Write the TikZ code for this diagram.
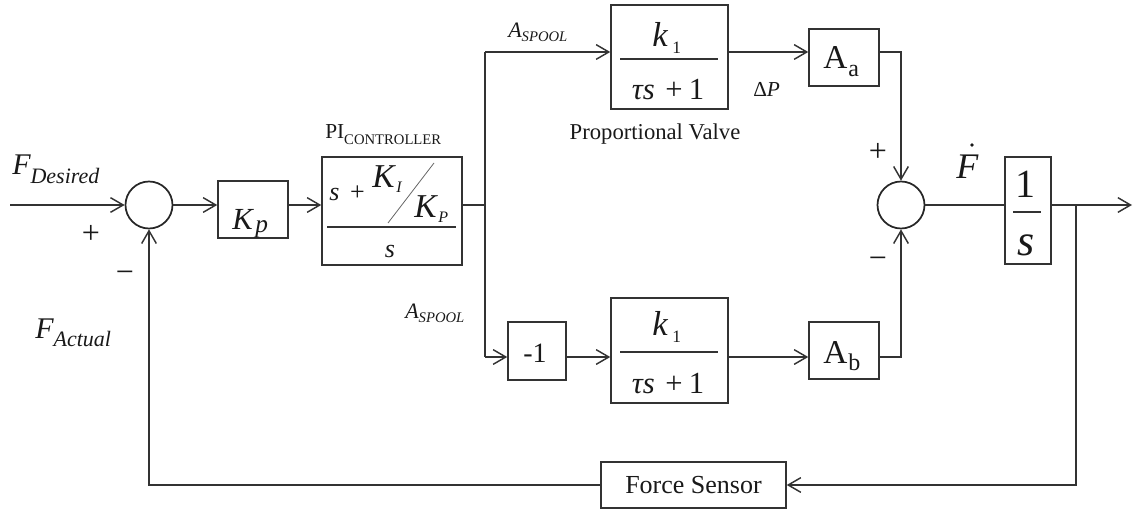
\documentclass[tikz,border=0pt]{standalone}
\usepackage{fontspec}
\setmainfont{Liberation Serif}
\usetikzlibrary{arrows.meta}
\newcommand\fsz[1]{\fontsize{#1}{#1}\selectfont}
\begin{document}
\begin{tikzpicture}[x=0.75pt,y=-0.75pt,
  ln/.style={draw=black!80,line width=1.1pt},
  arr/.style={ln,-{Straight Barb[length=9.5pt,width=11pt]}},
  blk/.style={draw=black!80,line width=1.1pt,inner sep=0pt},
  sumc/.style={circle,draw=black!85,line width=1.3pt,minimum size=35.25pt,inner sep=0pt},
  lbl/.style={inner sep=0pt,text=black!90},
  bar/.style={draw=black!80,line width=1.1pt}]
\useasboundingbox (0,0) rectangle (1133,510);

% summing junctions
\node[sumc] (s1) at (149,205) {};
\node[sumc] (s2) at (901,205) {};

% blocks
\node[blk,minimum width=52.5pt,minimum height=42.75pt] (kp) at (253,209.5) {};
\node[blk,minimum width=105pt,minimum height=81pt] (pi) at (392,211) {};
\node[blk,minimum width=87.75pt,minimum height=78pt] (v1) at (669.5,57) {};
\node[blk,minimum width=87.75pt,minimum height=78.75pt] (v2) at (669.5,350.5) {};
\node[blk,minimum width=43.5pt,minimum height=43.5pt] (neg) at (537,351) {};
\node[blk,minimum width=52.5pt,minimum height=42.75pt] (aa) at (844,57.5) {};
\node[blk,minimum width=52.5pt,minimum height=42.75pt] (ab) at (844,350.5) {};
\node[blk,minimum width=34.5pt,minimum height=80.25pt] (os) at (1028,210.5) {};
\node[blk,minimum width=138.75pt,minimum height=34.5pt] (fs) at (693.5,485) {};

% block contents
\node[lbl,anchor=base west] (kpK) at (232,229) {\fsz{23}\itshape K};
\node[lbl,anchor=base west] (kpp) at (255,233) {\fsz{19}\itshape p};

\node[lbl,anchor=base west] (pis) at (329,200) {\fsz{19.5}\itshape s};
\node[lbl,anchor=base] (pipl) at (357.5,200) {\fsz{19.5}+};
\node[lbl,anchor=base west] (piK1) at (372,187) {\fsz{25}\itshape K};
\node[lbl,anchor=base west] (piI) at (396,193) {\fsz{12}\itshape I};
\node[lbl,anchor=base west] (piK2) at (414,217) {\fsz{25}\itshape K};
\node[lbl,anchor=base west] (piP) at (438,223) {\fsz{12}\itshape P};
\draw[draw=black!60,line width=0.6pt] (388,223) -- (434,163);
\draw[bar] (327,227) -- (456,227);
\node[lbl,anchor=base] (pis2) at (390,257) {\fsz{19.5}\itshape s};

\node[lbl,anchor=base west] (v1k) at (652,47) {\fsz{26}\itshape k};
\node[lbl,anchor=base west] (v1i) at (672,54) {\fsz{13}1};
\draw[bar] (620,59) -- (718,59);
\node[lbl,anchor=base] (v1d) at (668,100) {\fsz{23}{\itshape τs}\hspace{0.35em}+\hspace{0.2em}1};

\node[lbl,anchor=base west] (v2k) at (652,335) {\fsz{26}\itshape k};
\node[lbl,anchor=base west] (v2i) at (672,342) {\fsz{13}1};
\draw[bar] (620,352) -- (718,352);
\node[lbl,anchor=base] (v2d) at (668,393) {\fsz{23}{\itshape τs}\hspace{0.35em}+\hspace{0.2em}1};

\node[lbl,anchor=base] (negt) at (535,362) {\fsz{21}-1};

\node[lbl,anchor=base west] (aaA) at (823,69) {\fsz{25}A};
\node[lbl,anchor=base west] (aaa) at (848,77) {\fsz{18}a};
\node[lbl,anchor=base west] (abA) at (823,363) {\fsz{25}A};
\node[lbl,anchor=base west] (abb) at (848,370) {\fsz{18}b};

\node[lbl,anchor=base] (os1) at (1025,197) {\fsz{30}1};
\draw[bar] (1013,212) -- (1041,212);
\node[lbl,anchor=base] (oss) at (1026,255) {\fsz{33}\itshape s};

\node[lbl] (fst) at (fs) {\fsz{19.5}Force Sensor};

% coordinates
\coordinate (in) at (10,205);
\coordinate (br) at (485,205);
\coordinate (brt) at (485,52);
\coordinate (brb) at (485,357);
\coordinate (ob) at (1076,205);
\coordinate (out) at (1132,205);

% connectors
\draw[arr] (in) -- (s1.west);
\draw[arr] (s1.east) -- (s1.east -| kp.west);
\draw[arr] (kp.east |- s1) -- (pi.west |- s1);
\draw[ln] (pi.east |- s1) -- (br);
\draw[ln] (brt) -- (brb);
\draw[arr] (brt) -- (brt -| v1.west);
\draw[arr] (brb) -- (brb -| neg.west);
\draw[arr] (neg.east |- brb) -- (brb -| v2.west);
\draw[arr] (v1.east |- brt) -- (brt -| aa.west);
\draw[arr] (v2.east |- brb) -- (brb -| ab.west);
\draw[arr] (aa.east |- brt) -| (s2.north);
\draw[arr] (ab.east |- brb) -| (s2.south);
\draw[ln] (s2.east) -- (s2.east -| os.west);
\draw[arr] (os.east |- s2) -- (out);
\draw[arr] (ob) |- (fs.east);
\draw[arr] (fs.west) -| (s1.south);

% labels
\node[lbl,anchor=base west] (fd) at (12,175) {\fsz{22.5}\itshape F\raisebox{-6pt}{\fsz{16.5}Desired}};
\node[lbl,anchor=base west] (fa) at (35,338) {\fsz{22.5}\itshape F\raisebox{-6.5pt}{\fsz{16.5}Actual}};
\node[lbl] (p1) at (91,234) {\fsz{24}+};
\node[lbl] (m1) at (125,277) {\fsz{24}−};
\node[lbl] (p2) at (878,152) {\fsz{24}+};
\node[lbl] (m2) at (878,263) {\fsz{24}−};
\node[lbl,anchor=base west] (pil) at (325,139) {\fsz{16}PI\raisebox{-4.5pt}{\fsz{11}CONTROLLER}};
\node[lbl,anchor=base west] (as1) at (508,38) {\fsz{16.5}\itshape A\raisebox{-3pt}{\fsz{11}SPOOL}};
\node[lbl,anchor=base west] (as2) at (405,318) {\fsz{16.5}\itshape A\raisebox{-3pt}{\fsz{11}SPOOL}};
\node[lbl,anchor=base] (pv) at (655,140) {\fsz{17}Proportional Valve};
\node[lbl,anchor=base west] (dp) at (753,97) {\fsz{16}Δ\itshape P};
\node[lbl,anchor=base west] (fdot) at (956,178) {\fsz{27}\itshape F};
\fill[black!90] (972,145) circle (1.8);
\end{tikzpicture}
\end{document}
